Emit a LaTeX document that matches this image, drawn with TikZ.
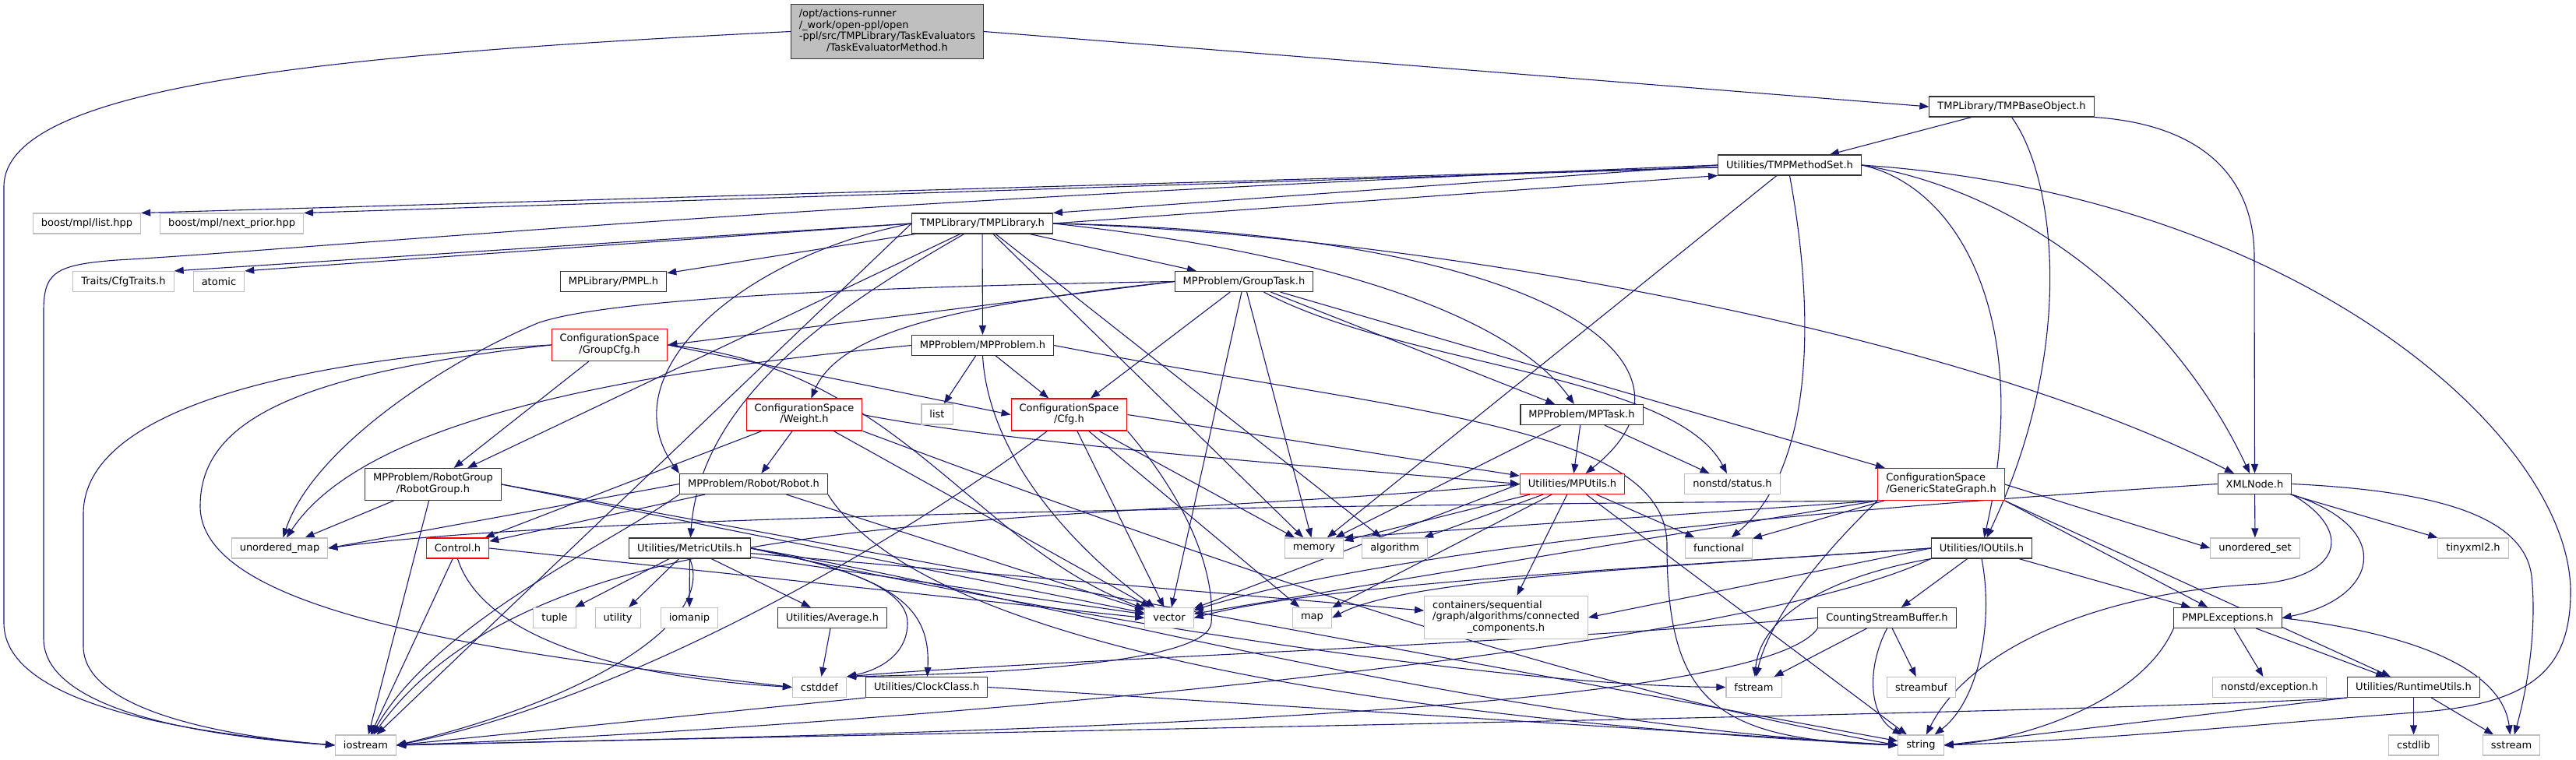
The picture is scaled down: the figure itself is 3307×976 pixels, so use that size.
\documentclass[tikz,border=0pt]{standalone}
\usepackage{fontspec}
\setmainfont{DejaVu Sans}
\usetikzlibrary{arrows.meta,positioning,backgrounds}
\definecolor{DoxEdge}{RGB}{25,25,112}
\definecolor{DoxGrey}{RGB}{191,191,191}
\definecolor{DoxRed}{RGB}{255,0,0}
\newcommand{\flines}[2]{\begin{tabular}{@{}l@{}}#1\\\multicolumn{1}{@{}c@{}}{#2}\end{tabular}}

\begin{document}
\begin{tikzpicture}[
  x=1pt,y=-1pt,
  node distance=24pt,
  box/.style={draw=black!80,fill=white,line width=1.1pt,inner xsep=10.5pt,inner ysep=6pt,
              minimum height=26pt,font=\fontsize{13}{14.5}\selectfont},
  extbox/.style={box,draw=DoxGrey},
  cutbox/.style={box,draw=DoxRed},
  rootbox/.style={box,fill=DoxGrey},
  arrow/.style={-{Triangle[length=12pt,width=9pt]},draw=DoxEdge,line width=1.1pt}
]
\useasboundingbox (0,0) rectangle (3307,976);

\node[rootbox] (main) at (1139,40.5) {\flines{/opt/actions-runner\\/\_work/open-ppl/open\\-ppl/src/TMPLibrary/TaskEvaluators}{/TaskEvaluatorMethod.h}};
\node[box] (base) at (2582.5,137) {TMPLibrary/TMPBaseObject.h};
\node[box] (mset) at (2297.5,212) {Utilities/TMPMethodSet.h};
\node[box] (tlib) at (1261,287) {TMPLibrary/TMPLibrary.h};
\node[extbox] (blist) at (111.5,287) {boost/mpl/list.hpp};
\node[extbox,right=of blist] (bnext) {boost/mpl/next\_prior.hpp};

\node[extbox] (traits) at (158.5,361.5) {Traits/CfgTraits.h};
\node[extbox,right=of traits] (atomic) {atomic};
\node[box] (pmpl) at (787.5,361.5) {MPLibrary/PMPL.h};
\node[box] (gtask) at (1597,361.5) {MPProblem/GroupTask.h};
\node[cutbox] (gcfg) at (782.5,443) {\flines{ConfigurationSpace}{/GroupCfg.h}};
\node[box] (mpprob) at (1261.5,443.5) {MPProblem/MPProblem.h};

\node[cutbox] (weight) at (1032.5,532.5) {\flines{ConfigurationSpace}{/Weight.h}};
\node[extbox] (list) at (1203,532) {list};
\node[cutbox] (cfg) at (1372.5,532.5) {\flines{ConfigurationSpace}{/Cfg.h}};
\node[box] (mptask) at (2030.5,532.5) {MPProblem/MPTask.h};

\node[box] (rgroup) at (556,622) {\flines{MPProblem/RobotGroup}{/RobotGroup.h}};
\node[box] (robot) at (967.5,621.5) {MPProblem/Robot/Robot.h};
\node[cutbox] (mputils) at (2018.5,621.5) {Utilities/MPUtils.h};
\node[extbox] (status) at (2224,621.5) {nonstd/status.h};
\node[cutbox] (gsg) at (2492,622) {\flines{ConfigurationSpace}{/GenericStateGraph.h}};
\node[box] (xml) at (2894.5,621.5) {XMLNode.h};

\node[extbox] (umap) at (359,704) {unordered\_map};
\node[cutbox] (control) at (587.5,704) {Control.h};
\node[box] (metric) at (885.5,704) {Utilities/MetricUtils.h};
\node[extbox] (memory) at (1687,704) {memory};
\node[extbox,right=23pt of memory] (algo) {algorithm};
\node[extbox] (func) at (2206.5,704) {functional};
\node[box] (ioutils) at (2544,704) {Utilities/IOUtils.h};
\node[extbox] (uset) at (2895,704) {unordered\_set};
\node[extbox] (tinyxml) at (3175,704) {tinyxml2.h};

\node[extbox] (tuple) at (712,793.5) {tuple};
\node[extbox,right=of tuple] (utility) {utility};
\node[extbox] (iomanip) at (885,793.5) {iomanip};
\node[box] (average) at (1068.5,793.5) {Utilities/Average.h};
\node[extbox] (vector) at (1501,793.5) {vector};
\node[extbox] (map) at (1684.5,793.5) {map};
\node[extbox] (ccomp) at (1933.5,793) {\flines{containers/sequential\\/graph/algorithms/connected}{\_components.h}};
\node[box] (csb) at (2422.5,793.5) {CountingStreamBuffer.h};
\node[box] (pexc) at (2860,793.5) {PMPLExceptions.h};

\node[extbox] (cstddef) at (1052,882.5) {cstddef};
\node[box,right=of cstddef] (clock) {Utilities/ClockClass.h};
\node[extbox] (fstream) at (2251.5,882.5) {fstream};
\node[extbox] (sbuf) at (2466.5,882.5) {streambuf};
\node[extbox] (nexc) at (2913.5,882.5) {nonstd/exception.h};
\node[box] (runtime) at (3098.5,882.5) {Utilities/RuntimeUtils.h};

\node[extbox] (iostream) at (469.5,957) {iostream};
\node[extbox] (string) at (2466,957) {string};
\node[extbox] (cstdlib) at (3098.5,957) {cstdlib};
\node[extbox] (sstream) at (3224,957) {sstream};

\begin{scope}[on background layer]
% root file
\draw[arrow] (main.east) -- (base.west);
\draw[arrow] (main.west) .. controls (420,70) and (5,110) .. (5,240) -- (5,800) .. controls (5,900) and (220,940) .. (iostream.west);
% TMPBaseObject.h
\draw[arrow] (base) -- (mset);
\draw[arrow] (base.south) .. controls (2640,230) and (2665,450) .. (ioutils);
\draw[arrow] (base.south east) .. controls (2830,160) and (2894,230) .. (2894,330) -- (xml);
% TMPMethodSet.h
\draw[arrow] (mset.west) -- (tlib.north east);
\draw[arrow] (mset) -- (blist.north east); \draw[arrow] (mset) -- (bnext.north east); \draw[arrow] (mset) -- (memory);
\draw[arrow] (mset.west) .. controls (1000,260) and (400,320) .. (150,334) .. controls (70,340) and (56,350) .. (56,400) -- (56,820) .. controls (56,910) and (250,945) .. (iostream.west);
\draw[arrow] (mset.south) .. controls (2330,400) and (2330,600) .. (func);
\draw[arrow] (mset.east) .. controls (2520,240) and (2610,420) .. (ioutils);
\draw[arrow] (mset.east) .. controls (2620,250) and (2800,420) .. (xml);
\draw[arrow] (mset.east) .. controls (2950,250) and (3300,560) .. (3300,760) .. controls (3300,860) and (3250,905) .. (3100,915) .. controls (2900,930) and (2700,950) .. (string.east);
% TMPLibrary.h
\draw[arrow] (tlib.east) -- (mset.south west);
\draw[arrow] (tlib.west) -- (traits.north east); \draw[arrow] (tlib.west) -- (atomic.north east);
\draw[arrow] (tlib) -- (pmpl); \draw[arrow] (tlib) -- (gtask); \draw[arrow] (tlib) -- (mpprob);
\draw[arrow] (tlib) -- (rgroup); \draw[arrow] (tlib) -- (algo); \draw[arrow] (tlib) -- (memory);
\draw[arrow] (tlib.west) -- (iostream);
\draw[arrow] (tlib) .. controls (1100,380) and (900,500) .. (metric);
\draw[arrow] (tlib.west) .. controls (950,330) and (780,480) .. (robot.north west);
\draw[arrow] (tlib.east) .. controls (1750,330) and (1950,420) .. (mptask);
\draw[arrow] (tlib.east) .. controls (2000,300) and (2210,470) .. (mputils);
\draw[arrow] (tlib.east) .. controls (1800,300) and (2500,420) .. (xml);
% GroupTask.h
\draw[arrow] (gtask.west) -- (gcfg.east);
\draw[arrow] (gtask.west) .. controls (1250,390) and (1080,420) .. (weight);
\draw[arrow] (gtask) -- (cfg); \draw[arrow] (gtask) -- (mptask); \draw[arrow] (gtask) -- (gsg);
\draw[arrow] (gtask) -- (vector); \draw[arrow] (gtask) -- (memory);
\draw[arrow] (gtask) .. controls (1800,470) and (2150,480) .. (status);
\draw[arrow] (gtask.west) .. controls (1000,370) and (760,390) .. (690,415) .. controls (560,470) and (400,580) .. (umap);
% GroupCfg.h
\draw[arrow] (gcfg) -- (rgroup); \draw[arrow] (gcfg.east) -- (cfg.west);
\draw[arrow] (gcfg.east) .. controls (1150,470) and (1250,700) .. (vector);
\draw[arrow] (gcfg.west) .. controls (400,460) and (107,520) .. (107,660) -- (107,830) .. controls (107,910) and (280,945) .. (iostream.west);
\draw[arrow] (gcfg.west) .. controls (380,480) and (257,540) .. (257,650) .. controls (257,790) and (650,840) .. (cstddef.west);
% MPProblem.h
\draw[arrow] (mpprob) -- (list); \draw[arrow] (mpprob) -- (cfg);
\draw[arrow] (mpprob.south) .. controls (1270,600) and (1400,720) .. (vector);
\draw[arrow] (mpprob.west) .. controls (900,470) and (480,520) .. (umap);
\draw[arrow] (mpprob.east) .. controls (1800,530) and (2140,545) .. (2140,700) .. controls (2140,900) and (2200,950) .. (string.west);
% Weight.h
\draw[arrow] (weight) -- (robot); \draw[arrow] (weight) -- (control); \draw[arrow] (weight) -- (vector);
\draw[arrow] (weight.east) .. controls (1300,570) and (1700,600) .. (mputils.west);
\draw[arrow] (weight.south east) .. controls (1500,700) and (2000,880) .. (string.west);
% Cfg.h
\draw[arrow] (cfg.east) -- (mputils);
\draw[arrow] (cfg) -- (vector); \draw[arrow] (cfg) -- (memory); \draw[arrow] (cfg) -- (map);
\draw[arrow] (cfg.south east) .. controls (1530,650) and (1560,740) .. (1555,800) .. controls (1550,850) and (1300,865) .. (cstddef.north east);
\draw[arrow] (cfg) .. controls (1150,700) and (800,900) .. (iostream.east);
% RobotGroup.h
\draw[arrow] (rgroup) -- (umap); \draw[arrow] (rgroup) -- (iostream);
\draw[arrow] (rgroup.east) -- (vector); \draw[arrow] (rgroup.east) -- (string);
% Robot.h
\draw[arrow] (robot) -- (control); \draw[arrow] (robot.west) -- (umap.east); \draw[arrow] (robot) -- (vector);
\draw[arrow] (robot.south west) .. controls (780,700) and (560,800) .. (iostream);
\draw[arrow] (robot.south east) .. controls (1200,850) and (1900,930) .. (string.west);
% Control.h
\draw[arrow] (control) -- (iostream); \draw[arrow] (control.east) -- (vector.west);
\draw[arrow] (control.south) .. controls (620,820) and (800,870) .. (cstddef.west);
% MetricUtils.h
\draw[arrow] (metric) -- (tuple); \draw[arrow] (metric) -- (utility); \draw[arrow] (metric) -- (iomanip);
\draw[arrow] (metric) -- (average); \draw[arrow] (metric) -- (vector); \draw[arrow] (metric) -- (ccomp);
\draw[arrow] (metric.east) .. controls (1100,730) and (1165,760) .. (1165,800) .. controls (1165,840) and (1130,860) .. (cstddef.north east);
\draw[arrow] (metric.east) .. controls (1150,740) and (1195,780) .. (clock);
\draw[arrow] (metric.east) .. controls (1300,760) and (1900,930) .. (string.west);
\draw[arrow] (metric.east) .. controls (1300,780) and (1900,880) .. (fstream.west);
\draw[arrow] (metric.south) .. controls (920,800) and (750,900) .. (iostream.east);
% MPUtils.h
\draw[arrow] (mputils) -- (memory); \draw[arrow] (mputils) -- (algo); \draw[arrow] (mputils) -- (map);
\draw[arrow] (mputils.west) -- (vector); \draw[arrow] (mputils) -- (func); \draw[arrow] (mputils) -- (ccomp);
\draw[arrow] (mputils) -- (string);
\draw[arrow] (mputils.west) .. controls (1300,680) and (700,640) .. (iostream);
% MPTask.h
\draw[arrow] (mptask) -- (mputils); \draw[arrow] (mptask) -- (status); \draw[arrow] (mptask) -- (memory);
% GenericStateGraph.h
\draw[arrow] (gsg.south west) .. controls (1500,650) and (700,665) .. (umap.east);
\draw[arrow] (gsg.east) -- (uset.west); \draw[arrow] (gsg.south west) -- (memory.north east);
\draw[arrow] (gsg) -- (func); \draw[arrow] (gsg.south west) -- (vector);
\draw[arrow] (gsg.south west) .. controls (2330,720) and (2270,800) .. (fstream);
\draw[arrow] (gsg.south east) -- (pexc); \draw[arrow] (gsg.south east) -- (runtime);
% XMLNode.h
\draw[arrow] (xml) -- (uset); \draw[arrow] (xml) -- (tinyxml);
\draw[arrow] (xml.south east) .. controls (3080,680) and (3050,770) .. (pexc.east);
\draw[arrow] (xml.south east) .. controls (3020,680) and (3010,740) .. (2900,750) .. controls (2700,760) and (2530,830) .. (string);
\draw[arrow] (xml.east) .. controls (3120,630) and (3240,660) .. (3250,740) .. controls (3258,820) and (3240,900) .. (sstream);
\draw[arrow] (xml.west) .. controls (2400,650) and (1800,700) .. (vector);
% IOUtils.h
\draw[arrow] (ioutils) -- (csb); \draw[arrow] (ioutils) -- (pexc); \draw[arrow] (ioutils.west) -- (ccomp.east);
\draw[arrow] (ioutils.south) .. controls (2560,800) and (2540,900) .. (string);
\draw[arrow] (ioutils.west) .. controls (2100,730) and (1700,750) .. (vector.east);
\draw[arrow] (ioutils.west) .. controls (2100,730) and (1800,745) .. (map.east);
\draw[arrow] (ioutils.south west) .. controls (2350,740) and (2260,790) .. (fstream);
\draw[arrow] (ioutils.south west) .. controls (2200,850) and (1000,940) .. (iostream.east);
% CountingStreamBuffer.h
\draw[arrow] (csb) -- (fstream); \draw[arrow] (csb) -- (sbuf);
\draw[arrow] (csb.south) .. controls (2395,860) and (2400,920) .. (string);
\draw[arrow] (csb.south west) .. controls (2250,930) and (1000,945) .. (iostream.east);
\draw[arrow] (csb.west) .. controls (1900,830) and (1300,850) .. (cstddef.north east);
% PMPLExceptions.h
\draw[arrow] (pexc) -- (nexc); \draw[arrow] (pexc) -- (runtime);
\draw[arrow] (pexc.south west) .. controls (2750,900) and (2600,950) .. (string.east);
\draw[arrow] (pexc.east) .. controls (3150,820) and (3215,880) .. (sstream);
% RuntimeUtils.h
\draw[arrow] (runtime) -- (cstdlib); \draw[arrow] (runtime) -- (sstream);
\draw[arrow] (runtime.south west) -- (string.east);
\draw[arrow] (runtime.south west) .. controls (2700,915) and (1500,935) .. (iostream.east);
% Average.h, ClockClass.h
\draw[arrow] (average) -- (cstddef);
\draw[arrow] (clock.east) -- (string.west); \draw[arrow] (clock.south west) -- (iostream.east);
\end{scope}
\end{tikzpicture}
\end{document}
